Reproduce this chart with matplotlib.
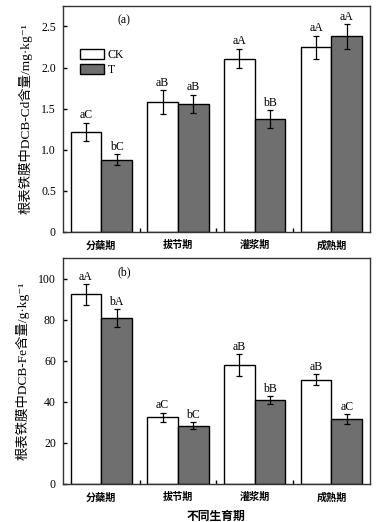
import matplotlib
matplotlib.use("Agg")
import matplotlib.pyplot as plt
import numpy as np

plt.rcParams['font.family'] = ['Liberation Serif', 'Noto Sans CJK SC', 'DejaVu Sans']

stages = ['分蘖期', '拔节期', '灌浆期', '成熟期']
cd_ck = [1.22, 1.58, 2.11, 2.25]
cd_ck_err = [0.11, 0.15, 0.12, 0.14]
cd_t = [0.88, 1.56, 1.37, 2.38]
cd_t_err = [0.07, 0.11, 0.11, 0.15]
cd_ck_lab = ['aC', 'aB', 'aA', 'aA']
cd_t_lab = ['bC', 'aB', 'bB', 'aA']

fe_ck = [92.3, 32.5, 57.8, 50.8]
fe_ck_err = [5.0, 2.2, 5.3, 2.7]
fe_t = [80.8, 28.4, 40.7, 31.7]
fe_t_err = [4.4, 1.8, 2.0, 2.4]
fe_ck_lab = ['aA', 'aC', 'aB', 'aB']
fe_t_lab = ['bA', 'bC', 'bB', 'aC']

fig = plt.figure(figsize=(3.86, 5.22), dpi=100)
ax1 = fig.add_axes([0.163, 0.5556, 0.795, 0.433])
ax2 = fig.add_axes([0.163, 0.0728, 0.795, 0.433])

x = np.arange(len(stages))
w = 0.4
gray = '#6f6f6f'
cjk = ['Noto Sans CJK SC', 'DejaVu Sans']

def draw(ax, ck, cke, t, te, lck, lt, ylim, yticks, ytl, ylabel, tag, off):
    b1 = ax.bar(x - w/2, ck, w, color='white', edgecolor='black', linewidth=1.0, label='CK')
    b2 = ax.bar(x + w/2, t, w, color=gray, edgecolor='black', linewidth=1.0, label='T')
    ax.errorbar(x - w/2, ck, yerr=cke, fmt='none', ecolor='black', elinewidth=0.9, capsize=2.2, capthick=0.9)
    ax.errorbar(x + w/2, t, yerr=te, fmt='none', ecolor='black', elinewidth=0.9, capsize=2.2, capthick=0.9)
    for i in range(len(x)):
        ax.text(x[i] - w/2, ck[i] + cke[i] + off, lck[i], ha='center', va='bottom', fontsize=8.5)
        ax.text(x[i] + w/2, t[i] + te[i] + off, lt[i], ha='center', va='bottom', fontsize=8.5)
    ax.set_xlim(-0.5, 3.5)
    ax.set_ylim(*ylim)
    ax.set_yticks(yticks)
    ax.set_yticklabels(ytl, fontsize=8.5)
    ax.set_xticks(x)
    ax.set_xticklabels(stages, fontsize=7.3, family=cjk, fontweight='bold')
    ax.set_xticks([0.5, 1.5, 2.5], minor=True)
    ax.tick_params(axis='x', which='major', length=0, pad=6)
    ax.tick_params(axis='x', which='minor', direction='in', length=3, width=1)
    ax.tick_params(axis='y', direction='in', length=3, width=1, pad=5)
    for s in ax.spines.values():
        s.set_linewidth(1.0)
        s.set_color('#333333')
    ax.set_ylabel(ylabel, fontsize=9.6, labelpad=6)
    ax.text(0.2, 0.935, tag, transform=ax.transAxes, fontsize=8.5, ha='center', va='center')
    return b1, b2

b1, b2 = draw(ax1, cd_ck, cd_ck_err, cd_t, cd_t_err, cd_ck_lab, cd_t_lab, (0, 2.75),
              [0, 0.5, 1.0, 1.5, 2.0, 2.5], ['0', '0.5', '1.0', '1.5', '2.0', '2.5'],
              '根表铁膜中DCB-Cd含量/mg·kg⁻¹', '(a)', 0.015)
draw(ax2, fe_ck, fe_ck_err, fe_t, fe_t_err, fe_ck_lab, fe_t_lab, (0, 110),
     [0, 20, 40, 60, 80, 100], ['0', '20', '40', '60', '80', '100'],
     '根表铁膜中DCB-Fe含量/g·kg⁻¹', '(b)', 0.6)
ax2.set_xlabel('不同生育期', fontsize=8.5, family=cjk, fontweight='bold', labelpad=5)

leg = ax1.legend(handles=[b1, b2], loc='upper left', bbox_to_anchor=(0.04, 0.83), frameon=False,
                 fontsize=8.5, handlelength=2.0, handleheight=0.95, handletextpad=0.35,
                 labelspacing=0.2, borderaxespad=0)

fig.savefig('out.png', dpi=100)
